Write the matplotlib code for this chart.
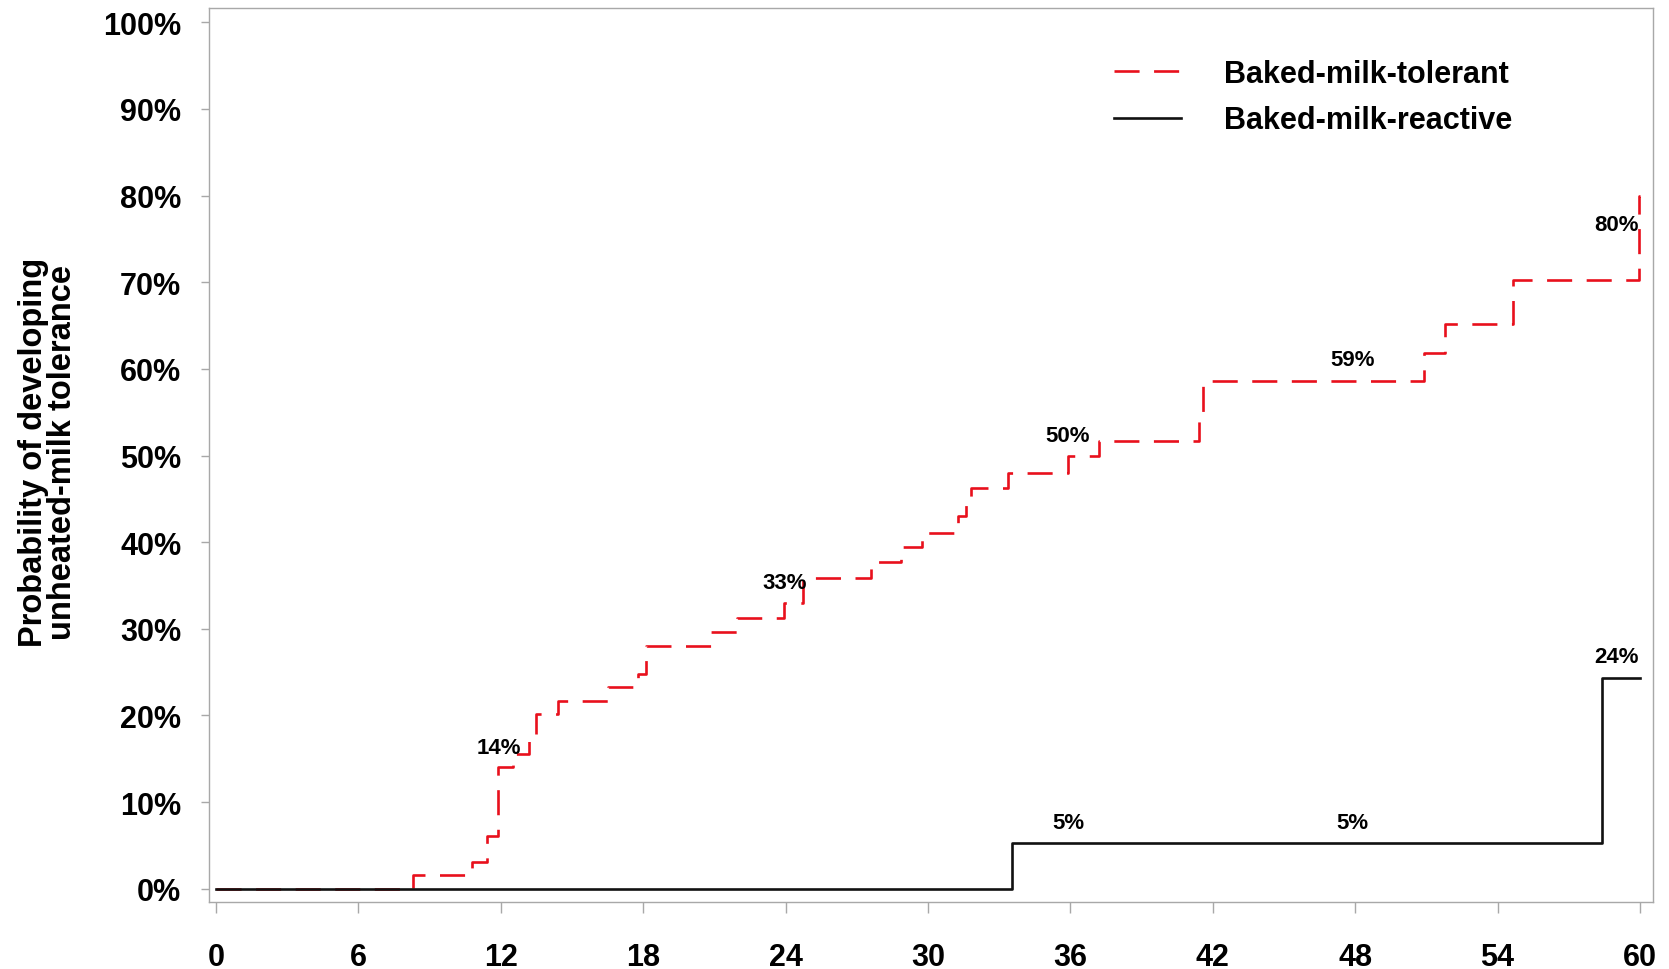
import matplotlib
matplotlib.use("Agg")
import matplotlib.pyplot as plt
from matplotlib.lines import Line2D

plt.rcParams['font.family'] = ['Liberation Sans', 'DejaVu Sans']

# months since baseline / cumulative probability (%)
tol_months = [0, 8.3, 10.8, 11.4, 11.9, 12.5, 13.2, 13.5, 14.4, 16.5, 17.8, 18.1,
              20.85, 21.95, 23.95, 24.75, 27.6, 28.85, 29.75, 31.25, 31.6, 31.8,
              33.35, 35.9, 37.2, 41.4, 41.6, 50.9, 51.8, 54.65, 59.95, 60]
tol_prob = [0, 1.6, 3.1, 6.1, 14.0, 15.6, 17.5, 20.2, 21.7, 23.3, 24.8, 28.0,
            29.6, 31.2, 33.0, 35.9, 37.7, 39.4, 41.1, 43.0, 44.6, 46.3,
            48.0, 49.9, 51.7, 54.0, 58.6, 61.8, 65.2, 70.2, 80.0, 80.0]

rea_months = [0, 33.55, 58.4, 60]
rea_prob = [0, 5.3, 24.3, 24.3]

tol_labels = ["14%", "33%", "50%", "59%", "80%"]
tol_label_x = [11.9, 23.95, 35.9, 47.9, 59.0]
tol_label_y = [16.3, 35.3, 52.3, 61.1, 76.7]
rea_labels = ["5%", "5%", "24%"]
rea_label_x = [35.9, 47.9, 59.0]
rea_label_y = [7.7, 7.7, 26.8]

xticks = [0, 6, 12, 18, 24, 30, 36, 42, 48, 54, 60]
yticks = list(range(0, 101, 10))

fig = plt.figure(figsize=(16.69, 9.70), dpi=100)
ax = fig.add_axes([0.1252, 0.0691, 0.8652, 0.9221])

ax.step(tol_months, tol_prob, where='post', color='#e8101c', lw=1.9,
        dashes=(9.5, 5.5))
ax.step(rea_months, rea_prob, where='post', color='#111111', lw=1.9)

for t, x, y in zip(tol_labels, tol_label_x, tol_label_y):
    ax.text(x, y, t, ha='center', va='center', fontsize=16, fontweight='bold')
for t, x, y in zip(rea_labels, rea_label_x, rea_label_y):
    ax.text(x, y, t, ha='center', va='center', fontsize=16, fontweight='bold')

ax.set_xlim(-0.3, 60.55)
ax.set_ylim(-1.52, 101.7)
ax.set_xticks(xticks)
ax.set_xticklabels([str(v) for v in xticks], fontsize=22, fontweight='bold')
ax.set_yticks(yticks)
ax.set_yticklabels([f"{v}%" for v in yticks], fontsize=22, fontweight='bold')

for s in ax.spines.values():
    s.set_color('#a8a8a8')
    s.set_linewidth(1.0)
ax.tick_params(axis='x', colors='#a8a8a8', length=8, width=1, pad=21, labelcolor='black')
ax.tick_params(axis='y', colors='#a8a8a8', length=6, width=1, pad=14, labelcolor='black')

fig.text(0.0288, 0.534, "Probability of developing\nunheated-milk tolerance",
         rotation=90, ha='center', va='center', fontsize=23.5, fontweight='bold',
         linespacing=0.9)

handles = [Line2D([], [], color='#e8101c', lw=1.9, dashes=(9.5, 5.5)),
           Line2D([], [], color='#111111', lw=1.9)]
ax.legend(handles, ["Baked-milk-tolerant", "Baked-milk-reactive"],
          loc='upper left', bbox_to_anchor=(1114 / 1669, 1 - 60 / 970),
          bbox_transform=fig.transFigure, frameon=False, borderpad=0,
          borderaxespad=0, handlelength=2.2, handletextpad=1.4,
          labelspacing=0.53, prop={'size': 22, 'weight': 'bold'})

fig.savefig("out.png", dpi=100)
